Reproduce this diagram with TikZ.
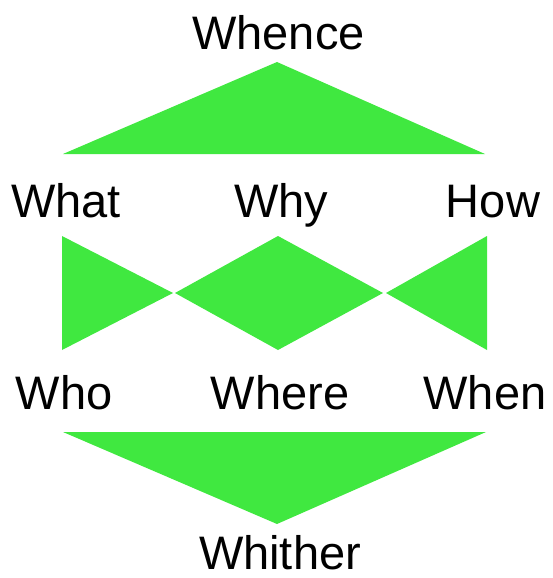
\documentclass[tikz,border=0pt]{standalone}
\usepackage{fontspec}
\setmainfont{Liberation Sans}
\usepackage{tikz}
\definecolor{leafgreen}{RGB}{64,232,64}

\begin{document}
\begin{tikzpicture}[x=1pt, y=-1pt,
    word/.style={anchor=base, inner sep=0pt, font=\fontsize{47}{56}\selectfont}]
  \useasboundingbox (0,0) rectangle (553,578);
  % top triangle
  \fill[leafgreen] (63,154) -- (277,62) -- (485,154) -- cycle;
  % middle row: two side triangles and a diamond
  \fill[leafgreen] (62,236) -- (173,293) -- (62,350) -- cycle;
  \fill[leafgreen] (175,293) -- (278,236) -- (383,293) -- (278,350) -- cycle;
  \fill[leafgreen] (487,236) -- (386,293) -- (487,350) -- cycle;
  % bottom triangle
  \fill[leafgreen] (63,432) -- (486,432) -- (277,524) -- cycle;
  % labels
  \node[word] (whence)  at (278.5,50) {Whence};
  \node[word] (what)    at (66,217)   {What};
  \node[word] (why)     at (281,217)  {Why};
  \node[word] (how)     at (493,217)  {How};
  \node[word] (who)     at (64,409)   {Who};
  \node[word] (where)   at (280,409)  {Where};
  \node[word] (when)    at (485,409)  {When};
  \node[word] (whither) at (280,569)  {Whither};
\end{tikzpicture}
\end{document}
